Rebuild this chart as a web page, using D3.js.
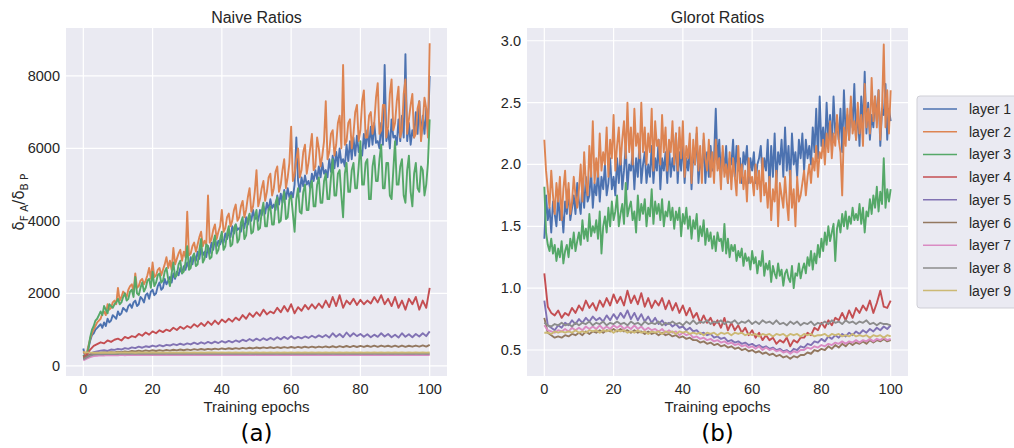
<!DOCTYPE html>
<html>
<head>
<meta charset="utf-8">
<script src="https://cdn.jsdelivr.net/npm/d3@7"></script>
<style>
  body { margin: 0; background: #fff; }
  svg { font-family: "Liberation Sans", Arial, sans-serif; }
</style>
</head>
<body>
<svg id="chart" width="1014" height="448"></svg>
<script>
// layer names and seaborn "deep" colours
var layers = ['layer 1', 'layer 2', 'layer 3', 'layer 4', 'layer 5', 'layer 6', 'layer 7', 'layer 8', 'layer 9'];
var colors = ['#4C72B0', '#DD8452', '#55A868', '#C44E52', '#8172B3', '#937860', '#DA8BC3', '#8C8C8C', '#CCB974'];

var xTicks = [0, 20, 40, 60, 80, 100];
var naiveTicks = [0, 2000, 4000, 6000, 8000];
var glorotTicks = [0.5, 1.0, 1.5, 2.0, 2.5, 3.0];

// Naive ratios, read off the picture. Layers 1-3 are sampled every half epoch,
// the rest once per epoch; every series spans epochs 0..100.
var naive1 = [480,250,300,500,700,850,900,1000,1050,1100,
  1150,1050,1200,1100,1300,1200,1250,1400,1350,1300,
  1500,1400,1450,1600,1550,1500,1650,1700,1600,1750,
  1800,1650,1700,1900,1850,1750,1950,2000,1850,2050,
  2100,1950,2000,2200,2300,2100,2150,2400,2250,2350,
  2450,2300,2550,2400,2600,2500,2700,2550,2750,2650,
  2850,2700,3000,2800,3050,2900,3150,2950,3250,3050,
  3150,3000,3300,3100,3400,3200,3500,3300,3450,3350,
  3500,3400,3650,3500,3700,3550,3850,3650,3900,3750,
  3800,3700,4000,3800,4100,3900,4150,4000,4300,4050,
  4100,4000,4300,4150,4400,4200,4500,4300,4600,4350,
  4450,4300,4700,4450,4750,4500,4850,4600,4900,4650,
  4800,4650,5000,6300,5100,4800,5200,4950,5250,5000,
  5100,4900,5300,5100,5400,5150,5500,5200,5600,5300,
  5400,5200,5700,5350,5800,5450,5900,5500,6000,5600,
  5700,5500,6100,5650,6200,5700,6300,5800,6350,5900,
  5950,5800,6400,6000,6500,6050,6600,6100,6700,6150,
  6200,6000,6700,6100,8300,6200,6500,6000,6800,6300,
  6350,6100,6800,6200,6900,6300,8600,6200,6700,6100,
  6500,6300,7000,6400,7300,6300,6900,6400,7100,6500,
  8000];
var naive2 = [400,330,350,560,750,900,1000,1100,1200,1250,
  1300,1450,1500,1400,1700,1550,1600,1750,1800,1700,
  2150,1800,1900,2050,2000,1900,2100,2200,2250,2050,
  2550,2150,2200,2350,2400,2250,2350,2500,2700,2400,
  2850,2450,2500,2650,2700,2500,2650,2800,3000,2700,
  2900,2650,3250,2800,2950,3100,3200,2900,3150,3000,
  4250,3050,3100,3300,3400,3150,3350,3550,3700,3300,
  3450,3350,4700,3400,3500,3750,3900,3500,3700,3850,
  4300,3700,3800,4100,4200,3850,4000,4300,4450,4000,
  4100,4400,4550,4100,4300,4650,4900,4250,4400,4800,
  5400,4400,4600,4900,5100,4550,4800,5200,5300,4700,
  4900,5350,5500,4800,5000,5400,5700,4900,5200,5600,
  6600,5100,5300,5700,6000,5200,5400,5900,6100,5300,
  5600,6000,6400,5400,5500,6300,6000,5500,5800,6200,
  7300,5700,5900,6400,6500,5800,6100,6700,6900,6000,
  8300,6100,6200,6700,6800,6000,6400,7000,7200,6200,
  6500,7300,7600,6300,6300,6900,7000,6400,6700,7400,
  7800,6400,6500,7200,7200,6300,6600,7500,7900,6500,
  6700,7300,7700,6300,6500,7500,7900,6400,6800,7200,
  7500,6300,6400,7100,7300,6200,6700,7400,7100,6300,
  8900];
var naive3 = [300,200,250,500,800,1000,1100,1250,1300,1400,
  1500,1400,1650,1550,1450,1700,1650,1600,1700,1750,
  1850,1700,1750,1900,2000,1800,1850,2050,2100,1900,
  2450,2000,1950,2150,2300,2050,2150,2350,2400,2150,
  2600,2200,2300,2500,2550,2300,2350,2600,2700,2400,
  2200,2550,2850,2450,2500,2800,2900,2550,2600,2850,
  3300,2650,2700,3000,3100,2750,2800,3200,3500,2850,
  2950,3350,3300,2950,3000,3400,3600,3100,3200,3500,
  3700,3200,3300,3650,3850,3300,3350,3800,3900,3400,
  3500,3950,4100,3500,3600,4050,4200,3650,3700,4100,
  4300,3750,3800,4250,4500,3850,3850,4300,4400,3900,
  3900,4500,4650,3950,4000,4550,4800,4050,4100,4600,
  4700,4200,3700,4600,4900,4250,4200,4800,5000,4300,
  4300,4900,5100,4400,4400,5000,5200,4500,4500,5100,
  5300,4600,4600,5200,5700,4700,4700,5300,5400,4700,
  4100,5300,5600,4800,4800,5400,5600,4900,4900,5500,
  6200,5000,5000,5600,5700,4600,4600,5500,5800,5100,
  5100,5700,6100,4900,4900,5600,5600,4700,4600,5400,
  6200,5000,5000,5500,5700,4700,4500,5400,5800,4800,
  4400,5300,5600,4900,4800,5500,5400,4700,5000,5600,
  6800];
var naive4 = [250,300,450,550,600,650,620,700,660,720,750,700,800,760,820,790,880,830,920,860,
  950,900,980,930,1000,960,1050,990,1080,1020,1100,1050,1150,1080,1180,1100,1220,1130,1250,1150,
  1280,1200,1300,1220,1330,1260,1400,1300,1450,1350,1480,1380,1550,1420,1500,1450,1600,1480,1650,1500,
  1700,1450,1620,1520,1680,1560,1700,1580,1720,1600,1800,1620,1900,1650,1950,1600,1800,1700,1850,1680,
  1820,1700,1800,1720,1900,1750,1950,1700,1850,1650,1900,1600,1800,1550,1850,1700,1900,1550,1800,1600,2150];
var naive5 = [200,250,330,380,400,420,430,410,450,440,470,450,490,470,510,490,530,500,540,520,
  560,530,570,540,580,560,600,570,610,580,620,590,640,600,650,610,660,620,670,630,
  680,640,690,650,700,660,720,680,740,690,750,700,760,710,770,720,790,730,800,740,
  820,750,800,760,810,770,830,780,840,790,850,780,900,800,880,790,920,810,900,820,
  880,800,870,790,860,800,900,810,880,790,860,780,900,800,870,790,880,810,900,820,950];
var naive6 = [200,260,300,330,350,360,370,360,380,370,390,380,400,385,410,395,420,400,425,405,
  430,410,435,415,440,420,445,425,450,430,455,435,460,440,465,445,470,450,475,455,
  480,460,485,465,490,470,495,475,500,480,505,485,510,488,512,490,515,492,518,495,
  520,498,525,500,528,502,530,505,532,508,535,510,540,512,545,515,548,518,550,520,
  552,522,555,525,558,525,560,528,555,525,558,522,560,525,555,528,560,530,565,530,580];
var naive7 = [150,200,240,270,280,290,285,295,288,300,292,302,294,305,296,304,295,306,298,305,
  296,308,299,306,297,307,300,306,298,308,300,306,297,305,299,307,298,306,300,305,
  297,306,299,307,298,305,300,306,297,304,299,306,298,305,300,304,297,306,299,305,
  296,304,298,306,297,305,299,304,296,306,298,305,297,303,299,305,296,304,298,306,
  297,303,299,305,296,304,298,303,295,305,297,304,296,303,298,305,296,304,297,303,300];
var naive8 = [180,230,280,310,320,325,322,330,326,334,328,336,330,338,331,336,329,338,332,337,
  330,339,333,337,331,338,334,337,332,339,333,337,331,338,333,339,332,337,334,338,
  331,337,333,339,332,338,334,337,331,336,333,338,332,337,334,336,331,338,333,337,
  330,336,332,338,331,337,333,336,330,338,332,337,331,335,333,337,330,336,332,338,
  331,335,333,337,330,336,332,335,329,337,331,336,330,335,332,337,330,336,331,335,333];
var naive9 = [380,372,365,362,364,360,366,362,368,363,369,364,370,365,368,363,370,366,369,364,
  371,366,369,365,370,366,371,365,369,367,370,365,371,366,369,365,370,367,371,365,
  369,366,370,364,371,366,369,365,370,366,371,364,369,366,370,365,371,366,369,364,
  370,366,369,365,371,364,369,366,370,365,369,366,371,364,370,366,369,365,370,366,
  369,364,370,366,371,365,369,366,370,364,369,366,370,365,371,366,369,365,370,366,368];

// Glorot ratios (layers 1-3 every half epoch, the rest once per epoch)
var glorot1 = [1.40,1.75,1.55,1.65,1.45,1.70,1.60,1.50,1.75,1.55,
  1.65,1.45,1.70,1.60,1.80,1.55,1.65,1.75,1.60,1.85,
  1.70,1.60,1.85,1.65,1.90,1.70,1.75,1.95,1.65,1.85,
  1.75,1.95,1.70,1.90,1.80,2.00,1.75,1.85,2.05,1.80,
  1.90,1.75,2.05,1.85,2.10,1.80,1.95,2.15,1.80,2.00,
  1.95,2.10,1.80,2.05,1.90,2.20,1.85,2.00,2.10,1.85,
  2.00,1.90,2.15,1.85,2.05,1.95,2.20,1.80,2.05,1.95,
  2.10,1.85,2.15,1.90,2.05,1.95,2.25,1.85,2.10,1.95,
  2.20,1.85,2.05,1.95,2.15,1.80,2.10,2.00,2.25,1.85,
  2.05,1.95,2.20,1.85,2.10,1.90,2.15,1.95,2.05,2.45,
  2.00,2.20,1.90,2.10,1.95,2.15,1.85,2.05,2.00,2.20,
  1.90,2.15,1.95,2.05,1.85,2.10,2.00,2.15,1.85,2.05,
  1.95,2.10,1.85,2.00,2.05,2.15,1.90,2.05,1.95,2.20,
  1.80,2.15,1.90,2.25,1.85,2.10,2.00,2.20,1.90,2.30,
  1.95,2.15,1.85,2.25,2.00,2.10,1.90,2.20,2.05,2.25,
  1.95,2.20,2.05,2.15,2.00,2.30,2.10,2.45,2.05,2.55,
  2.15,2.30,2.10,2.50,2.20,2.40,2.15,2.55,2.25,2.35,
  2.20,2.45,2.10,2.60,2.25,2.40,2.20,2.50,2.30,2.65,
  2.20,2.45,2.15,2.55,2.30,2.75,2.25,2.50,2.20,2.40,
  2.30,2.55,2.35,2.60,2.15,2.45,2.40,2.65,2.20,2.45,
  2.35];
var glorot2 = [2.20,1.95,1.80,1.65,1.95,1.75,1.60,1.85,1.70,1.90,
  1.55,1.80,1.95,1.65,1.85,1.60,1.70,1.90,1.75,1.65,
  1.80,2.00,1.70,2.10,1.85,1.75,2.15,1.90,2.35,1.85,
  2.05,1.90,2.25,1.95,2.10,2.00,2.30,1.90,2.20,2.05,
  2.40,1.95,2.15,2.30,2.00,2.20,2.35,2.05,2.50,2.10,
  2.30,2.00,2.45,2.15,2.25,2.05,2.50,2.10,2.30,2.00,
  2.25,2.10,2.45,1.95,2.35,2.15,2.20,2.00,2.40,2.10,
  2.30,1.95,2.20,2.10,2.35,2.00,2.25,1.95,2.30,2.05,
  2.35,1.90,2.15,2.05,2.25,1.85,2.20,2.00,2.30,1.95,
  2.15,1.85,2.25,2.05,1.95,2.20,1.90,2.10,1.85,2.20,
  1.95,2.05,1.80,2.15,1.90,2.00,1.85,2.10,1.80,2.05,
  1.90,1.75,2.15,1.85,2.00,1.80,1.95,1.70,2.05,1.85,
  1.90,1.75,2.00,1.80,1.95,1.70,2.05,1.75,1.85,1.65,
  1.90,1.55,1.80,1.70,1.95,1.50,1.85,1.75,1.65,1.90,
  1.70,1.55,1.95,1.65,1.80,1.50,1.90,1.70,1.75,1.85,
  1.95,1.75,1.90,2.00,1.85,2.05,1.95,2.15,1.90,2.10,
  2.05,2.20,2.00,2.25,2.10,2.35,2.05,2.25,2.15,2.40,
  2.20,2.10,1.75,2.30,2.15,2.45,2.20,2.55,2.25,2.35,
  2.20,2.50,2.25,2.40,2.15,2.65,2.30,2.45,2.25,2.70,
  2.35,2.55,2.30,2.60,2.20,2.45,2.97,2.30,2.60,2.25,
  2.60];
var glorot3 = [1.82,1.45,1.35,1.30,1.40,1.28,1.35,1.22,1.32,1.25,
  1.38,1.20,1.30,1.35,1.25,1.40,1.32,1.45,1.30,1.38,
  1.45,1.35,1.55,1.40,1.48,1.38,1.60,1.42,1.50,1.45,
  1.55,1.40,1.62,1.28,1.50,1.58,1.45,1.65,1.50,1.70,
  1.55,1.62,1.75,1.50,1.60,1.68,1.52,1.85,1.58,1.65,
  1.70,1.55,1.62,1.45,1.75,1.55,1.68,1.60,1.72,1.50,
  1.65,1.58,1.80,1.52,1.70,1.60,1.68,1.55,1.72,1.50,
  1.62,1.58,1.70,1.55,1.65,1.48,1.62,1.55,1.65,1.42,
  1.60,1.52,1.65,1.48,1.58,1.40,1.55,1.48,1.60,1.38,
  1.50,1.42,1.55,1.35,1.48,1.38,1.45,1.32,1.42,1.30,
  1.45,1.38,1.40,1.30,1.52,1.28,1.40,1.25,1.35,1.30,
  1.35,1.22,1.30,1.25,1.32,1.18,1.28,1.22,1.25,1.15,
  1.30,1.20,1.25,1.12,1.22,1.18,1.30,1.10,1.20,1.15,
  1.22,1.05,1.18,1.12,1.08,1.20,1.10,1.15,1.02,1.12,
  1.15,1.08,1.05,1.18,1.00,1.12,1.10,1.20,1.08,1.15,
  1.20,1.12,1.25,1.18,1.30,1.15,1.28,1.20,1.35,1.25,
  1.40,1.30,1.45,1.35,1.50,1.38,1.45,1.52,1.22,1.48,
  1.55,1.45,1.60,1.50,1.62,1.48,1.58,1.52,1.65,1.55,
  1.60,1.55,1.68,1.52,1.65,1.45,1.62,1.58,1.72,1.60,
  1.75,1.65,1.82,1.62,1.78,1.68,2.05,1.65,1.80,1.70,
  1.80];
var glorot4 = [1.12,0.85,0.80,0.78,0.82,0.76,0.80,0.78,0.84,0.80,0.86,0.82,0.90,0.84,0.88,0.82,0.90,0.85,0.92,0.86,
  0.95,0.88,0.93,0.86,0.98,0.88,0.94,0.87,0.96,0.85,0.92,0.84,0.90,0.86,0.92,0.83,0.90,0.82,0.88,0.80,
  0.86,0.78,0.84,0.76,0.80,0.72,0.78,0.72,0.76,0.70,0.74,0.68,0.76,0.66,0.72,0.66,0.70,0.64,0.68,0.62,
  0.66,0.60,0.64,0.58,0.62,0.58,0.60,0.55,0.58,0.56,0.60,0.53,0.58,0.56,0.60,0.60,0.64,0.62,0.68,0.66,
  0.72,0.68,0.74,0.70,0.76,0.74,0.80,0.74,0.82,0.76,0.84,0.80,0.86,0.82,0.90,0.80,0.88,0.98,0.85,0.84,0.90];
var glorot5 = [0.90,0.70,0.68,0.66,0.70,0.68,0.72,0.70,0.74,0.71,0.75,0.72,0.76,0.73,0.77,0.74,0.76,0.73,0.78,0.74,
  0.79,0.75,0.80,0.76,0.82,0.75,0.80,0.74,0.79,0.73,0.77,0.72,0.76,0.71,0.74,0.70,0.72,0.69,0.71,0.68,
  0.69,0.66,0.68,0.65,0.66,0.63,0.64,0.62,0.63,0.60,0.61,0.59,0.60,0.57,0.58,0.56,0.57,0.55,0.56,0.54,
  0.55,0.53,0.54,0.52,0.53,0.51,0.52,0.50,0.51,0.49,0.50,0.48,0.51,0.50,0.53,0.52,0.55,0.54,0.57,0.56,
  0.59,0.57,0.61,0.59,0.62,0.60,0.63,0.61,0.64,0.62,0.65,0.63,0.66,0.64,0.67,0.65,0.68,0.66,0.69,0.67,0.70];
var glorot6 = [0.76,0.64,0.62,0.60,0.61,0.60,0.62,0.61,0.63,0.62,0.64,0.62,0.65,0.63,0.65,0.64,0.66,0.64,0.66,0.65,
  0.67,0.65,0.67,0.65,0.66,0.64,0.66,0.64,0.65,0.63,0.65,0.63,0.64,0.62,0.64,0.62,0.63,0.61,0.62,0.60,
  0.61,0.59,0.60,0.58,0.58,0.56,0.57,0.55,0.56,0.54,0.55,0.53,0.54,0.52,0.53,0.51,0.52,0.50,0.51,0.49,
  0.50,0.48,0.49,0.47,0.48,0.46,0.47,0.45,0.46,0.44,0.45,0.43,0.45,0.44,0.46,0.46,0.48,0.47,0.50,0.49,
  0.51,0.50,0.53,0.51,0.54,0.52,0.55,0.53,0.56,0.54,0.56,0.55,0.57,0.55,0.58,0.56,0.58,0.57,0.59,0.57,0.58];
var glorot7 = [0.70,0.66,0.65,0.64,0.66,0.65,0.67,0.65,0.68,0.66,0.68,0.66,0.69,0.67,0.69,0.67,0.70,0.67,0.69,0.67,
  0.70,0.68,0.70,0.67,0.69,0.67,0.70,0.67,0.69,0.66,0.68,0.66,0.67,0.65,0.67,0.64,0.66,0.64,0.65,0.62,
  0.64,0.62,0.63,0.60,0.61,0.59,0.60,0.58,0.59,0.57,0.58,0.56,0.57,0.55,0.56,0.54,0.55,0.53,0.54,0.52,
  0.53,0.51,0.53,0.50,0.52,0.50,0.51,0.49,0.50,0.48,0.49,0.47,0.49,0.48,0.50,0.50,0.52,0.51,0.53,0.52,
  0.54,0.53,0.55,0.54,0.56,0.55,0.57,0.55,0.57,0.56,0.58,0.56,0.58,0.57,0.59,0.57,0.59,0.58,0.60,0.58,0.59];
var glorot8 = [0.72,0.70,0.69,0.71,0.70,0.72,0.70,0.71,0.69,0.72,0.70,0.72,0.71,0.73,0.70,0.72,0.71,0.73,0.70,0.72,
  0.71,0.73,0.71,0.72,0.70,0.73,0.71,0.72,0.70,0.73,0.71,0.72,0.71,0.73,0.70,0.72,0.71,0.73,0.71,0.72,
  0.70,0.73,0.71,0.74,0.71,0.73,0.72,0.74,0.71,0.73,0.72,0.74,0.71,0.73,0.72,0.74,0.71,0.73,0.72,0.74,
  0.71,0.73,0.71,0.74,0.72,0.73,0.71,0.74,0.71,0.72,0.70,0.73,0.71,0.73,0.70,0.72,0.71,0.73,0.70,0.72,
  0.71,0.73,0.71,0.74,0.72,0.73,0.71,0.74,0.72,0.73,0.71,0.73,0.72,0.74,0.71,0.72,0.70,0.72,0.71,0.71,0.70];
var glorot9 = [0.64,0.64,0.63,0.65,0.64,0.65,0.64,0.65,0.64,0.66,0.64,0.65,0.64,0.66,0.65,0.66,0.64,0.66,0.65,0.66,
  0.64,0.66,0.65,0.66,0.64,0.65,0.64,0.66,0.64,0.65,0.63,0.65,0.64,0.65,0.63,0.65,0.64,0.65,0.63,0.65,
  0.64,0.65,0.63,0.64,0.63,0.64,0.62,0.64,0.63,0.64,0.62,0.64,0.63,0.64,0.62,0.64,0.63,0.64,0.62,0.63,
  0.62,0.63,0.61,0.63,0.62,0.63,0.61,0.63,0.62,0.63,0.61,0.63,0.62,0.63,0.61,0.63,0.62,0.63,0.61,0.62,
  0.62,0.63,0.61,0.63,0.62,0.63,0.61,0.62,0.61,0.63,0.61,0.62,0.61,0.62,0.60,0.62,0.61,0.62,0.60,0.62,0.61];

var naiveSeries = [naive1, naive2, naive3, naive4, naive5, naive6, naive7, naive8, naive9];
var glorotSeries = [glorot1, glorot2, glorot3, glorot4, glorot5, glorot6, glorot7, glorot8, glorot9];

var svg = d3.select('#chart');
var textColor = '#262626';

function drawPanel(opts) {
  var x = d3.scaleLinear().domain([-5, 105]).range([opts.left, opts.right]);
  var y = d3.scaleLinear().domain(opts.yDomain).range([opts.bottom, opts.top]);
  var g = svg.append('g');

  g.append('rect')
    .attr('x', opts.left).attr('y', opts.top)
    .attr('width', opts.right - opts.left).attr('height', opts.bottom - opts.top)
    .attr('fill', '#EAEAF2');

  // grid
  g.selectAll('.vgrid').data(xTicks).enter().append('line')
    .attr('x1', d => x(d)).attr('x2', d => x(d))
    .attr('y1', opts.top).attr('y2', opts.bottom)
    .attr('stroke', '#fff').attr('stroke-width', 1.2);
  g.selectAll('.hgrid').data(opts.yTicks).enter().append('line')
    .attr('y1', d => y(d)).attr('y2', d => y(d))
    .attr('x1', opts.left).attr('x2', opts.right)
    .attr('stroke', '#fff').attr('stroke-width', 1.2);

  // lines (x position = epoch, from the sample index)
  var clipId = 'clip' + opts.left;
  g.append('clipPath').attr('id', clipId).append('rect')
    .attr('x', opts.left).attr('y', opts.top)
    .attr('width', opts.right - opts.left).attr('height', opts.bottom - opts.top);
  var lines = g.append('g').attr('clip-path', 'url(#' + clipId + ')');
  opts.series.forEach(function(s, k) {
    var line = d3.line()
      .x((d, i) => x(i * 100 / (s.length - 1)))
      .y(d => y(d));
    lines.append('path')
      .attr('d', line(s))
      .attr('fill', 'none')
      .attr('stroke', colors[k])
      .attr('stroke-width', 1.9)
      .attr('stroke-linejoin', 'round');
  });

  // tick labels
  g.selectAll('.xt').data(xTicks).enter().append('text')
    .attr('x', d => x(d)).attr('y', opts.bottom + 18)
    .attr('text-anchor', 'middle')
    .attr('font-size', 14.5).attr('fill', textColor)
    .text(d => d);
  g.selectAll('.yt').data(opts.yTicks).enter().append('text')
    .attr('x', opts.left - 6).attr('y', d => y(d) + 5)
    .attr('text-anchor', 'end')
    .attr('font-size', 14.5).attr('fill', textColor)
    .text(opts.yFormat);

  var cx = (opts.left + opts.right) / 2;
  g.append('text')
    .attr('x', cx).attr('y', 23)
    .attr('text-anchor', 'middle')
    .attr('font-size', 16).attr('fill', textColor)
    .text(opts.title);
  g.append('text')
    .attr('x', cx).attr('y', opts.bottom + 36)
    .attr('text-anchor', 'middle')
    .attr('font-size', 15).attr('fill', textColor)
    .text('Training epochs');
  g.append('text')
    .attr('x', cx).attr('y', 441)
    .attr('text-anchor', 'middle')
    .attr('font-family', '"DejaVu Sans", sans-serif')
    .attr('font-size', 23).attr('fill', '#000')
    .text(opts.caption);
}

drawPanel({
  left: 66, right: 447, top: 28, bottom: 376,
  yDomain: [-280, 9320], yTicks: naiveTicks, yFormat: d => d,
  series: naiveSeries, title: 'Naive Ratios', caption: '(a)'
});

drawPanel({
  left: 527, right: 908, top: 28, bottom: 376,
  yDomain: [0.29, 3.103], yTicks: glorotTicks, yFormat: d3.format('.1f'),
  series: glorotSeries, title: 'Glorot Ratios', caption: '(b)'
});

// y label for left panel (delta_FA / delta_BP)
var yl = svg.append('text')
  .attr('transform', 'translate(24,202) rotate(-90)')
  .attr('text-anchor', 'middle')
  .attr('font-family', '"DejaVu Sans", sans-serif')
  .attr('font-size', 15).attr('fill', textColor);
yl.append('tspan').text('δ');
yl.append('tspan').attr('font-size', 10.5).attr('dy', 4).text('F A');
yl.append('tspan').attr('dy', -4).text('/δ');
yl.append('tspan').attr('font-size', 10.5).attr('dy', 4).text('B P');

// legend
var legend = svg.append('g');
legend.append('rect')
  .attr('x', 917).attr('y', 96).attr('width', 110).attr('height', 212)
  .attr('rx', 3)
  .attr('fill', '#EAEAF2').attr('stroke', '#cfcfd6').attr('stroke-width', 1);
var rows = legend.selectAll('.row').data(layers).enter().append('g')
  .attr('transform', (d, i) => 'translate(0,' + (109 + i * 22.7) + ')');
rows.append('line')
  .attr('x1', 923).attr('x2', 957).attr('y1', 0).attr('y2', 0)
  .attr('stroke', (d, i) => colors[i]).attr('stroke-width', 1.5);
rows.append('text')
  .attr('x', 969).attr('y', 5)
  .attr('font-size', 14).attr('fill', textColor)
  .text(d => d);
</script>
</body>
</html>
